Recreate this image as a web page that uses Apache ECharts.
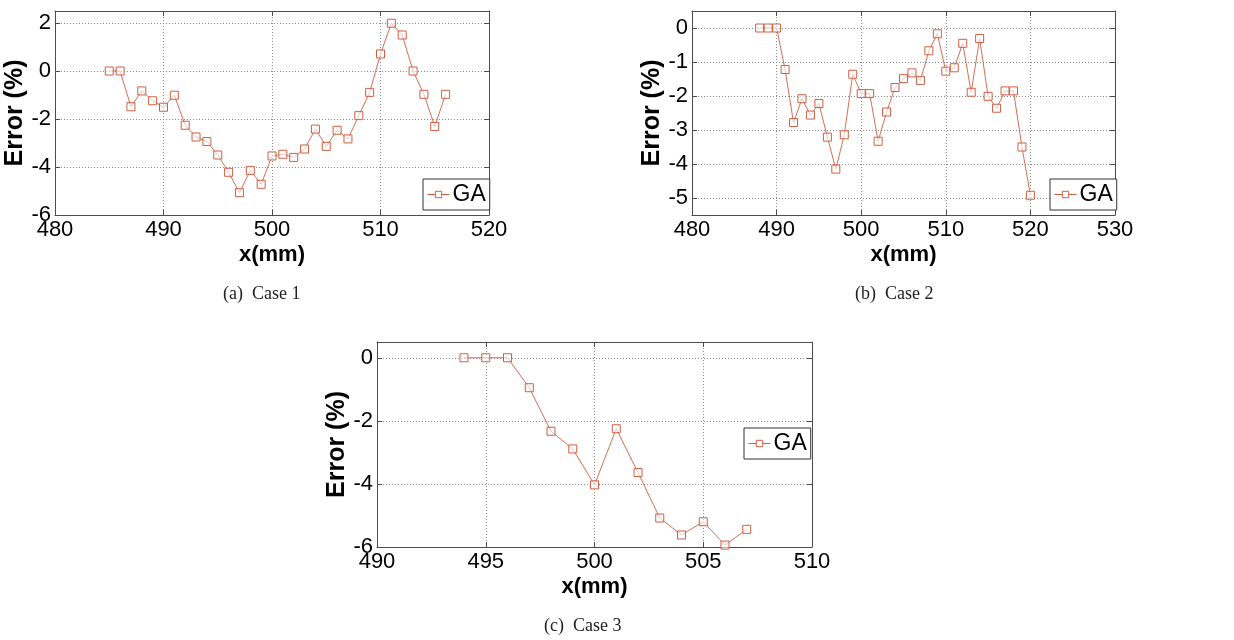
<!DOCTYPE html>
<html>
<head>
<meta charset="utf-8">
<script src="https://cdn.jsdelivr.net/npm/echarts@6/dist/echarts.min.js"></script>
<style>
html,body{margin:0;padding:0;background:#fff;}
#chart{width:1234px;height:640px;}
</style>
</head>
<body>
<div id="chart"></div>
<script>
// ---- Data ----
const seriesName = 'GA';
const captions = ['(a)  Case 1', '(b)  Case 2', '(c)  Case 3'];
const xName = 'x(mm)';
const yName = 'Error (%)';

const case1X = [485,486,487,488,489,490,491,492,493,494,495,496,497,498,499,500,501,502,503,504,505,506,507,508,509,510,511,512,513,514,515,516];
const case1Y = [0,0,-1.49,-0.83,-1.24,-1.51,-1.01,-2.26,-2.75,-2.94,-3.5,-4.22,-5.07,-4.14,-4.72,-3.54,-3.47,-3.6,-3.25,-2.42,-3.14,-2.47,-2.83,-1.86,-0.89,0.71,1.99,1.5,0,-0.97,-2.31,-0.97];

const case2X = [488,489,490,491,492,493,494,495,496,497,498,499,500,501,502,503,504,505,506,507,508,509,510,511,512,513,514,515,516,517,518,519,520];
const case2Y = [0,0,0,-1.22,-2.78,-2.08,-2.56,-2.22,-3.21,-4.15,-3.14,-1.36,-1.93,-1.93,-3.33,-2.47,-1.75,-1.49,-1.32,-1.54,-0.67,-0.17,-1.27,-1.17,-0.45,-1.89,-0.31,-2.01,-2.36,-1.85,-1.85,-3.5,-4.92];

const case3X = [494,495,496,497,498,499,500,501,502,503,504,505,506,507];
const case3Y = [0,0,0,-0.95,-2.33,-2.89,-4.03,-2.25,-3.64,-5.08,-5.62,-5.2,-5.94,-5.44];

const case1XTicks = [480,490,500,510,520];
const case1YTicks = [-6,-4,-2,0,2];
const case2XTicks = [480,490,500,510,520,530];
const case2YTicks = [-5,-4,-3,-2,-1,0];
const case3XTicks = [490,495,500,505,510];
const case3YTicks = [-6,-4,-2,0];

const case1YRange = [-6, 2.5];
const case2YRange = [-5.5, 0.5];
const case3YRange = [-6, 0.5];

// ---- Styling / layout ----
const lineColor = '#cf5f44';
const axisColor = '#4d4d4d';
const font = 'Liberation Sans, Arial, Helvetica, sans-serif';

const panels = [
  {x: case1X, y: case1Y, xt: case1XTicks, yt: case1YTicks, yr: case1YRange,
   grid: {left: 55, top: 11, width: 434, height: 204},
   legend: {left: 423, top: 179}, caption: {left: 223, top: 285}},
  {x: case2X, y: case2Y, xt: case2XTicks, yt: case2YTicks, yr: case2YRange,
   grid: {left: 692, top: 11, width: 423, height: 204},
   legend: {left: 1050, top: 179}, caption: {left: 855, top: 285}},
  {x: case3X, y: case3Y, xt: case3XTicks, yt: case3YTicks, yr: case3YRange,
   grid: {left: 377, top: 342, width: 435, height: 205},
   legend: {left: 744, top: 428}, caption: {left: 544, top: 617}}
];

const grids = [], xAxes = [], yAxes = [], series = [], legends = [], titles = [];
panels.forEach((p, i) => {
  grids.push(p.grid);
  const xmin = p.xt[0], xmax = p.xt[p.xt.length - 1];
  const xint = p.xt[1] - p.xt[0];
  const splitLine = {show: true, lineStyle: {type: [1, 2], color: '#8a8a8a', width: 1}};
  xAxes.push({
    type: 'value', gridIndex: i, position: 'bottom', min: xmin, max: xmax, interval: xint,
    name: xName, nameLocation: 'middle', nameGap: 29,
    nameTextStyle: {fontFamily: font, fontWeight: 'bold', fontSize: 22, color: '#000'},
    axisLine: {show: true, onZero: false, lineStyle: {color: axisColor, width: 1}},
    axisTick: {show: true, inside: true, length: 5, lineStyle: {color: axisColor}},
    axisLabel: {fontFamily: font, fontSize: 22, color: '#000', margin: 4},
    splitLine: splitLine
  });
  xAxes.push({
    type: 'value', gridIndex: i, position: 'top', min: xmin, max: xmax, interval: xint,
    axisLine: {show: true, onZero: false, lineStyle: {color: axisColor, width: 1}},
    axisTick: {show: true, inside: true, length: 5, lineStyle: {color: axisColor}},
    axisLabel: {show: false}, splitLine: {show: false}
  });
  yAxes.push({
    type: 'value', gridIndex: i, position: 'left', min: p.yr[0], max: p.yr[1],
    name: yName, nameLocation: 'middle', nameGap: 26,
    nameTextStyle: {fontFamily: font, fontWeight: 'bold', fontSize: 25, color: '#000'},
    axisLine: {show: true, onZero: false, lineStyle: {color: axisColor, width: 1}},
    axisTick: {show: true, inside: true, length: 5, lineStyle: {color: axisColor}, customValues: p.yt},
    axisLabel: {fontFamily: font, fontSize: 22, color: '#000', margin: 4, customValues: p.yt},
    splitLine: splitLine
  });
  yAxes.push({
    type: 'value', gridIndex: i, position: 'right', min: p.yr[0], max: p.yr[1],
    axisLine: {show: true, onZero: false, lineStyle: {color: axisColor, width: 1}},
    axisTick: {show: true, inside: true, length: 5, lineStyle: {color: axisColor}, customValues: p.yt},
    axisLabel: {show: false, customValues: p.yt}, splitLine: {show: false}
  });
  series.push({
    name: seriesName, type: 'line', xAxisIndex: i * 2, yAxisIndex: i * 2,
    data: p.x.map((v, k) => [v, p.y[k]]),
    symbol: 'rect', symbolSize: 8, showSymbol: true,
    lineStyle: {color: lineColor, width: 0.9},
    itemStyle: {color: 'rgba(255,255,255,0.6)', borderColor: lineColor, borderWidth: 1},
    animation: false
  });
  legends.push({
    data: [seriesName], left: p.legend.left, top: p.legend.top,
    orient: 'horizontal', itemWidth: 22, itemHeight: 8, itemGap: 4,
    padding: [4, 4, 4, 4], borderColor: '#333', borderWidth: 1, backgroundColor: '#fff',
    itemStyle: {color: '#fff', borderColor: lineColor, borderWidth: 1},
    lineStyle: {color: lineColor, width: 1},
    textStyle: {fontFamily: font, fontSize: 23, color: '#000', padding: [0, 0, 0, -2]},
    selectedMode: false
  });
  titles.push({
    text: captions[i], left: p.caption.left, top: p.caption.top,
    textStyle: {fontFamily: 'Liberation Serif, Times New Roman, serif', fontWeight: 'normal', fontSize: 18, color: '#222'},
    padding: 0
  });
});

const chart = echarts.init(document.getElementById('chart'), null, {renderer: 'canvas'});
chart.setOption({
  backgroundColor: '#fff',
  animation: false,
  title: titles,
  grid: grids,
  xAxis: xAxes,
  yAxis: yAxes,
  legend: legends,
  series: series
});
</script>
</body>
</html>
